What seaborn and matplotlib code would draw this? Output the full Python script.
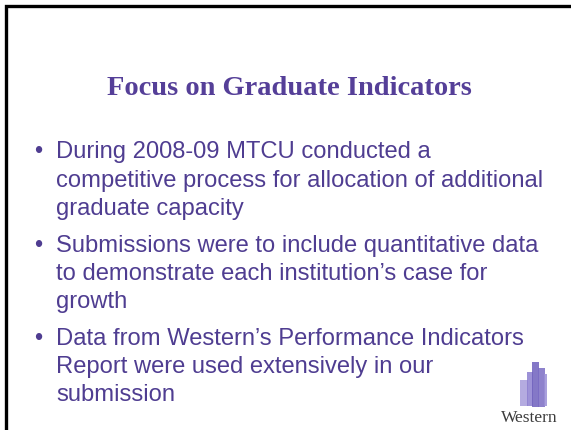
import matplotlib
matplotlib.use("Agg")
import matplotlib.pyplot as plt
import seaborn as sns
from matplotlib.patches import Rectangle

# slide content
title = "Focus on Graduate Indicators"
bullets = [
    ["During 2008-09 MTCU conducted a",
     "competitive process for allocation of additional",
     "graduate capacity"],
    ["Submissions were to include quantitative data",
     "to demonstrate each institution\u2019s case for",
     "growth"],
    ["Data from Western\u2019s Performance Indicators",
     "Report were used extensively in our",
     "submission"],
]
logo_text = "Western"

PURPLE = "#4f3d91"

sns.set_theme(style="white")
plt.rcParams['font.family'] = ['Liberation Sans', 'DejaVu Sans']

fig = plt.figure(figsize=(5.71, 4.30), dpi=100)
ax = fig.add_axes([0, 0, 1, 1])
ax.set_xlim(0, 571)
ax.set_ylim(430, 0)
ax.axis("off")

# slide frame (only top and left edges visible)
ax.plot([5.5, 5.5, 571], [430, 5.5, 5.5], color="black", lw=2.4,
        solid_capstyle="butt", solid_joinstyle="miter")

ax.text(289, 95, title, ha="center", va="baseline", color="#553f98",
        fontsize=20.5, fontweight="bold", family=["Liberation Serif"])

baselines = [[158, 187, 215], [252, 280, 308], [345, 373, 401]]
for lines, ys in zip(bullets, baselines):
    ax.text(34, ys[0], "\u2022", ha="left", va="baseline", color=PURPLE,
            fontsize=17)
    for line, y in zip(lines, ys):
        ax.text(56, y, line, ha="left", va="baseline", color=PURPLE,
                fontsize=17.1)

# Western logo: rough tower sketch
tower = [
    (520, 380, 8, 26, "#a79ddb"),
    (527, 372, 6, 34, "#8c7fd0"),
    (532, 362, 7, 45, "#6f60bd"),
    (538, 368, 7, 39, "#7a6cc4"),
    (544, 374, 3, 32, "#9a8fd6"),
]
for x, y, w, h, c in tower:
    ax.add_patch(Rectangle((x, y), w, h, color=c, alpha=0.85, lw=0))
ax.text(529, 422, logo_text, ha="center", va="baseline", color="#3c3c3c",
        fontsize=12.5, family=["Liberation Serif"])

fig.savefig("out.png", dpi=100)
